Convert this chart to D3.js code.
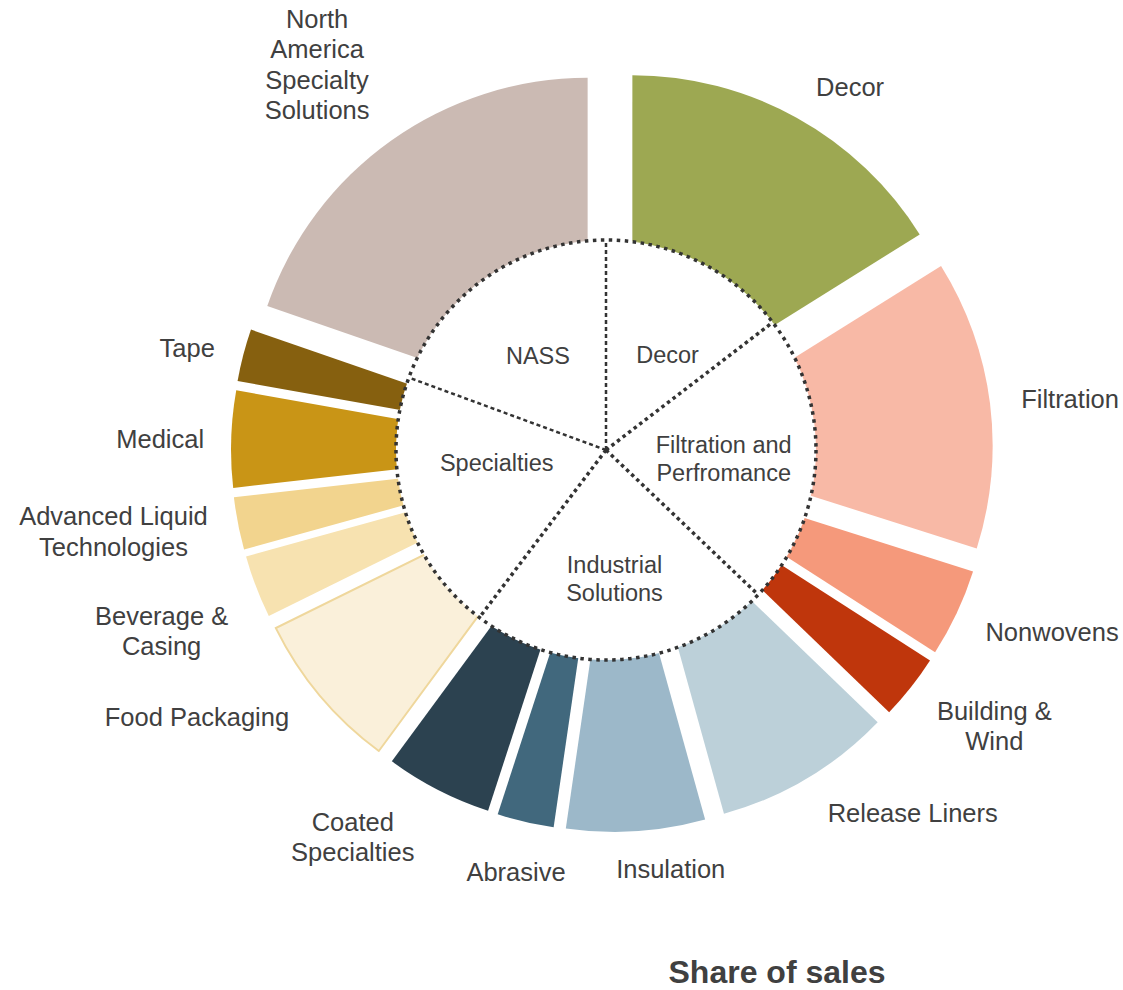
<!DOCTYPE html>
<html>
<head>
<meta charset="utf-8">
<script src="https://cdn.jsdelivr.net/npm/d3@7"></script>
<style>
body { margin: 0; background: #fff; }
text { font-family: "Liberation Sans", Arial, sans-serif; fill: #404040; }
</style>
</head>
<body>
<script>
// outer ring - business lines, share of sales (%)
var segments = ["Decor", "Filtration", "Nonwovens", "Building & Wind", "Release Liners",
    "Insulation", "Abrasive", "Coated Specialties", "Food Packaging", "Beverage & Casing",
    "Advanced Liquid Technologies", "Medical", "Tape", "North America Specialty Solutions"];
var shares = [16.1, 13.8, 4.2, 3.1, 8.5, 6.6, 2.7, 5.1, 7.6, 3.0, 2.5, 4.6, 2.5, 19.7];
var labelLines = [["Decor"], ["Filtration"], ["Nonwovens"], ["Building &", "Wind"], ["Release Liners"],
    ["Insulation"], ["Abrasive"], ["Coated", "Specialties"], ["Food Packaging"], ["Beverage &", "Casing"],
    ["Advanced Liquid", "Technologies"], ["Medical"], ["Tape"], ["North", "America", "Specialty", "Solutions"]];

// inner pie - reporting segments (%)
var groups = ["Decor", "Filtration and Perfromance", "Industrial Solutions", "Specialties", "NASS"];
var groupShares = [14.6, 22.5, 23.2, 20.3, 19.4];
var groupLines = [["Decor"], ["Filtration and", "Perfromance"], ["Industrial", "Solutions"], ["Specialties"], ["NASS"]];

var title = "Share of sales";

// colours per slice
var colors = ["#9da852", "#f8b9a6", "#f5997b", "#bf360c", "#bcd0d9", "#9cb8c9", "#41687d",
    "#2c4250", "#faf0da", "#f7e2b0", "#f2d48e", "#c99516", "#86600f", "#cbbab3"];

// label placement: [angle nudge in degrees from slice middle, distance from centre]
var labelPlace = [[4.2, 435], [0.7, 461], [-2.8, 476], [-2.6, 471], [-8.9, 471], [-4.4, 422], [-0.3, 432],
    [6.7, 465], [7.3, 493], [-0.9, 485], [1.8, 505], [-0.3, 452], [-1.0, 437], [-1.9, 486]];
var innerPlace = [[6.7, 113], [1, 118], [0.9, 129], [9.6, 110], [-1, 116]];

var width = 1123, height = 990;
var outerC = [612, 451], innerC = [606, 450];
var R = 339, explode = 42, innerR = 210;

var svg = d3.select("body").append("svg")
    .attr("width", width)
    .attr("height", height);

function polar(c, ang, r) {
    return [c[0] + r * Math.sin(ang), c[1] - r * Math.cos(ang)];
}
var rad = Math.PI / 180;

//outer slices, each pulled out along its middle angle
var pie = d3.pie().sort(null).value(function(d){ return d; });
var outerArcs = pie(shares);
var arc = d3.arc().innerRadius(0).outerRadius(R);

svg.append("g").selectAll("path").data(outerArcs).enter()
    .append("path")
    .attr("d", arc)
    .attr("fill", function(d, i){ return colors[i]; })
    .attr("stroke", function(d, i){ return segments[i] == "Food Packaging" ? "#efd79c" : "none"; })
    .attr("stroke-width", 2)
    .attr("transform", function(d){
        var m = (d.startAngle + d.endAngle) / 2;
        var p = polar(outerC, m, explode);
        return "translate(" + p[0] + "," + p[1] + ")";
    });

//inner white pie
var innerArcs = pie(groupShares);
var inner = svg.append("g").attr("transform", "translate(" + innerC[0] + "," + innerC[1] + ")");
inner.selectAll("path").data(innerArcs).enter()
    .append("path")
    .attr("d", d3.arc().innerRadius(0).outerRadius(innerR))
    .attr("fill", "#fff");

// dotted dividers between segments
inner.selectAll("line").data(innerArcs).enter()
    .append("line")
    .attr("x1", 0).attr("y1", 0)
    .attr("x2", function(d){ return innerR * Math.sin(d.startAngle); })
    .attr("y2", function(d){ return -innerR * Math.cos(d.startAngle); })
    .attr("stroke", "#333")
    .attr("stroke-width", function(d, i){ return (i == 0 || i == 4) ? 2.5 : 3.5; })
    .attr("stroke-dasharray", function(d, i){ return (i == 0 || i == 4) ? "4,3" : "3.5,3.5"; });

inner.append("circle")
    .attr("r", innerR)
    .attr("fill", "none")
    .attr("stroke", "#333")
    .attr("stroke-width", 3.5)
    .attr("stroke-dasharray", "3.5,4.5");

// outer labels
var fs = 25.5, lh = 30.5;
outerArcs.forEach(function(d, i){
    var m = (d.startAngle + d.endAngle) / 2 + labelPlace[i][0] * rad;
    var p = polar(outerC, m, labelPlace[i][1]);
    var lines = labelLines[i];
    var t = svg.append("text")
        .attr("text-anchor", "middle")
        .attr("font-size", fs);
    lines.forEach(function(s, j){
        t.append("tspan")
            .attr("x", p[0])
            .attr("y", p[1] - (lines.length - 1) * lh / 2 + j * lh + fs * 0.35)
            .text(s);
    });
});

// inner labels
var ifs = 23.5, ilh = 28;
innerArcs.forEach(function(d, i){
    var m = (d.startAngle + d.endAngle) / 2 + innerPlace[i][0] * rad;
    var p = polar(innerC, m, innerPlace[i][1]);
    var lines = groupLines[i];
    var t = svg.append("text")
        .attr("text-anchor", "middle")
        .attr("font-size", ifs);
    lines.forEach(function(s, j){
        t.append("tspan")
            .attr("x", p[0])
            .attr("y", p[1] - (lines.length - 1) * ilh / 2 + j * ilh + ifs * 0.35)
            .text(s);
    });
});

svg.append("text")
    .text(title)
    .attr("x", 777)
    .attr("y", 983)
    .attr("text-anchor", "middle")
    .attr("font-size", 32)
    .attr("font-weight", "bold");
</script>
</body>
</html>
